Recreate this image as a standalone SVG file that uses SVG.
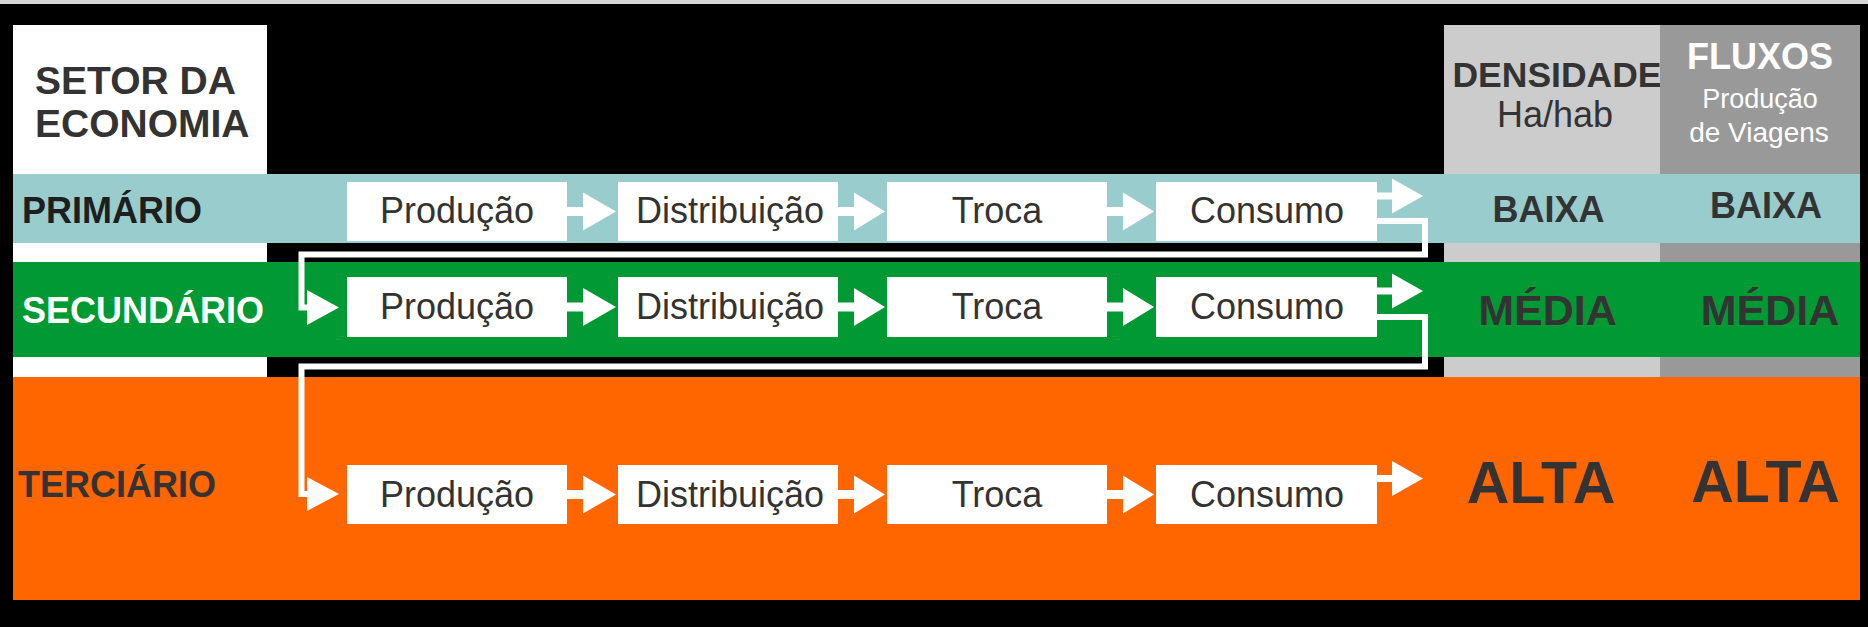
<svg xmlns="http://www.w3.org/2000/svg" width="1868" height="627" viewBox="0 0 1868 627">
  <style>
    text { font-family: "Liberation Sans", Arial, sans-serif; }
    .box { fill: #ffffff; }
    .lbl { font-size: 36px; fill: #333333; text-anchor: middle; }
    .b { font-weight: bold; }
    .dark { fill: #333333; }
    .mid { text-anchor: middle; }
    .wl { fill: none; stroke: #ffffff; stroke-width: 6; stroke-linejoin: miter; }
    .wf { fill: #ffffff; }
  </style>
  <!-- background -->
  <rect x="0" y="0" width="1868" height="627" fill="#000000"/>
  <rect x="0" y="0" width="1868" height="4" fill="#d6d6d6"/>

  <!-- header cells -->
  <g id="header-setor">
    <rect x="13" y="25" width="254" height="149" fill="#ffffff"/>
    <text x="35" y="94" font-size="39" class="b dark">SETOR DA</text>
    <text x="35" y="137" font-size="39" class="b dark">ECONOMIA</text>
  </g>
  <g id="header-densidade">
    <rect x="1444" y="25" width="216" height="575" fill="#cccccc"/>
    <text x="1557" y="87" font-size="35.5" class="b dark mid">DENSIDADE</text>
    <text x="1555" y="127" font-size="36" class="dark mid">Ha/hab</text>
  </g>
  <g id="header-fluxos">
    <rect x="1660" y="25" width="200" height="575" fill="#999999"/>
    <text x="1760" y="69" font-size="36" class="b mid" fill="#ffffff">FLUXOS</text>
    <text x="1760" y="108" font-size="27" class="mid" fill="#ffffff">Produção</text>
    <text x="1759" y="142" font-size="28" class="mid" fill="#ffffff">de Viagens</text>
  </g>

  <!-- left column white gaps -->
  <rect x="13" y="243" width="254" height="19" fill="#ffffff"/>
  <rect x="13" y="357" width="254" height="20" fill="#ffffff"/>

  <!-- bands -->
  <g id="row-primario">
    <rect x="13" y="174" width="1847" height="69" fill="#99cccc"/>
    <text x="22" y="223" font-size="36" class="b" fill="#1e1e1e">PRIMÁRIO</text>
    <text x="1548.5" y="222" font-size="36" class="b dark mid">BAIXA</text>
    <text x="1766" y="218" font-size="36" class="b dark mid">BAIXA</text>
  </g>
  <g id="row-secundario">
    <rect x="13" y="262" width="1847" height="95" fill="#009933"/>
    <text x="22" y="323" font-size="36" class="b" fill="#ffffff">SECUNDÁRIO</text>
    <text x="1547.5" y="325" font-size="43" class="b dark mid">MÉDIA</text>
    <text x="1770" y="325" font-size="43" class="b dark mid">MÉDIA</text>
  </g>
  <g id="row-terciario">
    <rect x="13" y="377" width="1847" height="223" fill="#ff6600"/>
    <text x="18" y="497" font-size="36" class="b dark">TERCIÁRIO</text>
    <text x="1541" y="503" font-size="59" class="b dark mid">ALTA</text>
    <text x="1765.5" y="502" font-size="59" class="b dark mid">ALTA</text>
  </g>

  <!-- process boxes row 1 -->
  <g id="p1-producao"><rect class="box" x="347" y="182" width="220" height="59"/><text class="lbl" x="457" y="223">Produção</text></g>
  <g id="p1-distribuicao"><rect class="box" x="618" y="182" width="220" height="59"/><text class="lbl" x="730" y="223">Distribuição</text></g>
  <g id="p1-troca"><rect class="box" x="887" y="182" width="220" height="59"/><text class="lbl" x="997" y="223">Troca</text></g>
  <g id="p1-consumo"><rect class="box" x="1156" y="182" width="221" height="59"/><text class="lbl" x="1267" y="223">Consumo</text></g>

  <!-- process boxes row 2 -->
  <g id="p2-producao"><rect class="box" x="347" y="277" width="220" height="60"/><text class="lbl" x="457" y="319">Produção</text></g>
  <g id="p2-distribuicao"><rect class="box" x="618" y="277" width="220" height="60"/><text class="lbl" x="730" y="319">Distribuição</text></g>
  <g id="p2-troca"><rect class="box" x="887" y="277" width="220" height="60"/><text class="lbl" x="997" y="319">Troca</text></g>
  <g id="p2-consumo"><rect class="box" x="1156" y="277" width="221" height="60"/><text class="lbl" x="1267" y="319">Consumo</text></g>

  <!-- process boxes row 3 -->
  <g id="p3-producao"><rect class="box" x="347" y="465" width="220" height="59"/><text class="lbl" x="457" y="507">Produção</text></g>
  <g id="p3-distribuicao"><rect class="box" x="618" y="465" width="220" height="59"/><text class="lbl" x="730" y="507">Distribuição</text></g>
  <g id="p3-troca"><rect class="box" x="887" y="465" width="220" height="59"/><text class="lbl" x="997" y="507">Troca</text></g>
  <g id="p3-consumo"><rect class="box" x="1156" y="465" width="221" height="59"/><text class="lbl" x="1267" y="507">Consumo</text></g>

  <!-- connectors -->
  <g id="connectors">
    <!-- row 1 internal arrows -->
    <rect class="wf" x="567" y="207" width="17" height="9"/><polygon class="wf" points="583,192.5 616,211.5 583,230.5"/>
    <rect class="wf" x="838" y="207" width="17" height="9"/><polygon class="wf" points="854,192.5 885,211.5 854,230.5"/>
    <rect class="wf" x="1107" y="207" width="17" height="9"/><polygon class="wf" points="1123,192.5 1154,211.5 1123,230.5"/>
    <!-- row 2 internal arrows -->
    <rect class="wf" x="567" y="302.5" width="17" height="9"/><polygon class="wf" points="583,288 616,307 583,326"/>
    <rect class="wf" x="838" y="302.5" width="17" height="9"/><polygon class="wf" points="854,288 885,307 854,326"/>
    <rect class="wf" x="1107" y="302.5" width="17" height="9"/><polygon class="wf" points="1123,288 1154,307 1123,326"/>
    <!-- row 3 internal arrows -->
    <rect class="wf" x="567" y="490" width="17" height="9"/><polygon class="wf" points="583,475.5 616,494.5 583,513.5"/>
    <rect class="wf" x="838" y="490" width="17" height="9"/><polygon class="wf" points="854,475.5 885,494.5 854,513.5"/>
    <rect class="wf" x="1107" y="490" width="17" height="9"/><polygon class="wf" points="1123,475.5 1154,494.5 1123,513.5"/>
    <!-- exit arrows -->
    <rect class="wf" x="1377" y="192.5" width="16" height="7"/><polygon class="wf" points="1392,178.5 1423,196 1392,213.5"/>
    <rect class="wf" x="1377" y="287.5" width="16" height="7"/><polygon class="wf" points="1392,273.5 1423,291 1392,308.5"/>
    <rect class="wf" x="1377" y="475" width="16" height="7"/><polygon class="wf" points="1392,461 1423,478.5 1392,496"/>
    <!-- loop 1: primario consumo -> secundario producao -->
    <polyline class="wl" points="1377,221 1425,221 1425,254.5 301.5,254.5 301.5,307.5 309,307.5"/>
    <polygon class="wf" points="307,290 339,307.5 307,325"/>
    <!-- loop 2: secundario consumo -> terciario producao -->
    <polyline class="wl" points="1377,317 1425,317 1425,366.5 301.5,366.5 301.5,494 309,494"/>
    <polygon class="wf" points="307,477 339,494 307,511"/>
  </g>
</svg>
